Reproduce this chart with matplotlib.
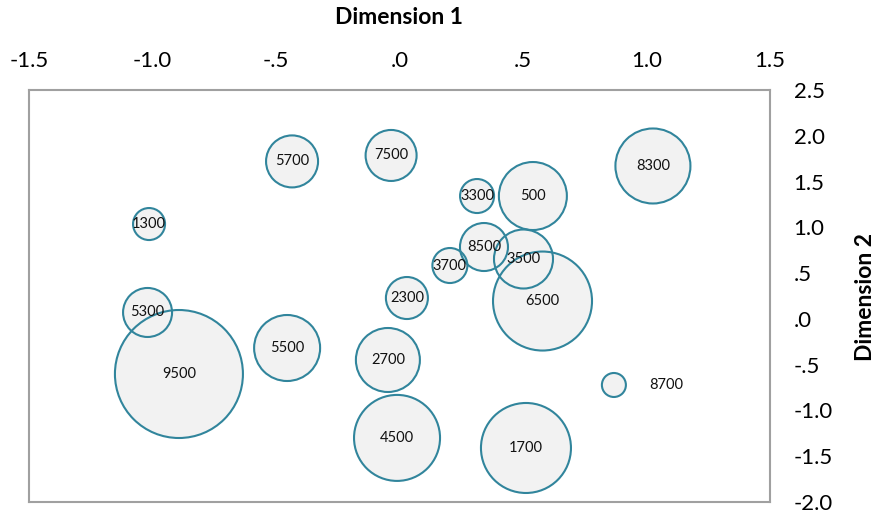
import matplotlib
matplotlib.use("Agg")
import matplotlib.pyplot as plt

plt.rcParams['font.family'] = ['Lato', 'DejaVu Sans']

# bubble data
labels = ['5700', '7500', '8300', '3300', '500', '1300', '8500', '3500', '3700',
          '6500', '2300', '5300', '9500', '5500', '2700', '8700', '4500', '1700']
dim1 = [-0.435, -0.034, 1.026, 0.314, 0.540, -1.014, 0.342, 0.502, 0.204,
        0.579, 0.030, -1.020, -0.893, -0.455, -0.047, 0.868, -0.010, 0.512]
dim2 = [1.72, 1.785, 1.67, 1.342, 1.342, 1.036, 0.785, 0.654, 0.583,
        0.195, 0.228, 0.07, -0.602, -0.318, -0.449, -0.722, -1.30, -1.41]
# bubble radius (relative size)
radius = [26, 25.5, 37.5, 17, 34, 16, 24, 29.5, 17.5,
          49.5, 21, 24.5, 64, 33, 32, 12, 43, 45]

xticks = [-1.5, -1.0, -0.5, 0.0, 0.5, 1.0, 1.5]
xticklabels = ['-1.5', '-1.0', '-.5', '.0', '.5', '1.0', '1.5']
yticks = [2.5, 2.0, 1.5, 1.0, 0.5, 0.0, -0.5, -1.0, -1.5, -2.0]
yticklabels = ['2.5', '2.0', '1.5', '1.0', '.5', '.0', '-.5', '-1.0', '-1.5', '-2.0']

edge = '#31859C'
fill = '#F2F2F2'

fig = plt.figure(figsize=(8.77, 5.16), dpi=100)
ax = fig.add_axes([29 / 877, 1 - 502 / 516, 741 / 877, 412 / 516])

sizes = [(2 * r * 0.72) ** 2 for r in radius]
# fills first, then outlines so every edge stays visible
ax.scatter(dim1, dim2, s=sizes, c=fill, edgecolors='none', zorder=2)
ax.scatter(dim1, dim2, s=sizes, facecolors='none', edgecolors=edge, linewidths=1.5, zorder=3)

for lab, x, y in zip(labels, dim1, dim2):
    dx = 38 if lab == '8700' else 0
    ax.annotate(lab, (x, y), xytext=(dx, 0), textcoords='offset points',
                ha='center', va='center', fontsize=10.5, color='#111111', zorder=4)

ax.set_xlim(-1.5, 1.5)
ax.set_ylim(-2.0, 2.5)
ax.set_xticks(xticks)
ax.set_xticklabels(xticklabels)
ax.set_yticks(yticks)
ax.set_yticklabels(yticklabels)
ax.xaxis.tick_top()
ax.yaxis.tick_right()
ax.tick_params(axis='x', length=0, pad=14, labelsize=16)
ax.tick_params(axis='y', length=0, pad=17, labelsize=16)
for sp in ax.spines.values():
    sp.set_color('#A0A0A0')
    sp.set_linewidth(1.5)

fig.text(399 / 877, 1 - 18 / 516, 'Dimension 1', ha='center', va='center',
         fontsize=16.5, fontweight='bold')
fig.text(865 / 877, 1 - 297 / 516, 'Dimension 2', ha='center', va='center',
         rotation=90, fontsize=16.5, fontweight='bold')

fig.savefig('out.png', dpi=100)
